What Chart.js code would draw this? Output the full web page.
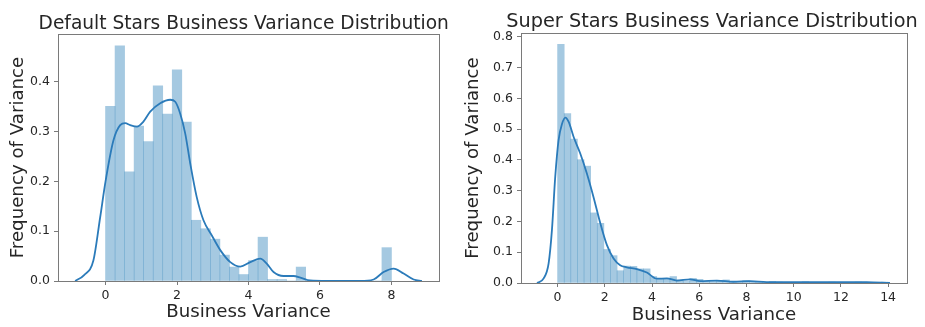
<!DOCTYPE html>
<html>
<head>
<meta charset="utf-8">
<script src="https://cdn.jsdelivr.net/npm/chart.js@4"></script>
<style>
html,body{margin:0;padding:0;background:#fff;}
.box{position:absolute;top:0;height:327px;}
#a{left:0;width:460px;}
#b{left:460px;width:465px;}
</style>
</head>
<body>
<div class="box" id="a"><canvas id="left"></canvas></div>
<div class="box" id="b"><canvas id="right"></canvas></div>
<script>
// histogram bins (density) and KDE curves
const defaultBinStart = 0, defaultBinWidth = 8/30;
const defaultHist = [0.351,0.472,0.219,0.311,0.280,0.392,0.335,0.424,0.319,0.122,
  0.105,0.084,0.052,0.028,0.013,0.041,0.088,0.003,0.003,0,
  0.028,0,0,0,0,0,0,0,0,0.067];
const defaultKdeX = [-0.85,-0.6,-0.34,-0.15,0,0.22,0.41,0.55,0.69,0.88,1.06,1.25,1.53,1.81,1.95,2.09,2.23,2.37,2.55,2.74,
  2.97,3.21,3.49,3.77,4.05,4.33,4.51,4.70,4.98,5.26,5.45,5.72,6.19,7.12,7.5,7.78,8.06,8.34,8.62,8.85];
const defaultKdeY = [0,0.012,0.041,0.128,0.2,0.282,0.313,0.317,0.313,0.31,0.32,0.34,0.357,0.364,0.36,0.336,0.296,0.236,0.169,0.122,
  0.092,0.062,0.038,0.029,0.038,0.045,0.035,0.018,0.010,0.010,0.007,0.001,0,0,0.003,0.018,0.025,0.015,0.003,0];

const superBinStart = 0, superBinWidth = 0.28;
const superHist = [0.776,0.551,0.468,0.401,0.380,0.228,0.194,0.109,0.089,0.040,
  0.055,0.054,0.046,0.046,0.021,0.012,0.012,0.021,0.010,0.005,
  0.015,0.012,0.005,0.004,0.008,0.010,0.004,0.003,0.008,0.003,
  0.003,0.002,0.005,0.003,0.002,0.001,0.002,0.004,0.001,0.002,
  0.001,0.003,0.001,0.001,0.001,0.003,0.001,0.001,0.002,0.003];
const superKdeX = [-0.87,-0.59,-0.38,-0.24,-0.10,0.04,0.19,0.33,0.47,0.68,0.96,1.24,1.52,1.81,2.09,2.37,2.65,2.93,3.36,3.78,
  4.2,4.63,5.05,5.61,6.04,6.75,7.45,8.15,8.86,10.27,11.68,13.09,14.08];
const superKdeY = [0,0.015,0.064,0.172,0.345,0.464,0.518,0.538,0.524,0.475,0.421,0.356,0.28,0.194,0.123,0.08,0.058,0.051,0.045,0.034,
  0.014,0.015,0.008,0.012,0.006,0.008,0.004,0.006,0.003,0.003,0.003,0.003,0];

const BAR = 'rgba(31,119,180,0.4)', LINE = '#2b7bba', SPINE = '#7a7a7a', TXT = '#262626';
const FONT = "'DejaVu Sans', sans-serif";

// axes frame + title drawn unsqueezed (the title is wider than the axes)
const frame = {
  id:'frame',
  afterDraw(c, args, o){
    const a=c.chartArea, ctx=c.ctx;
    ctx.save(); ctx.strokeStyle=SPINE; ctx.lineWidth=1;
    ctx.strokeRect(Math.round(a.left)+0.5, Math.round(a.top)+0.5, Math.round(a.right-a.left), Math.round(a.bottom-a.top));
    ctx.fillStyle=TXT; ctx.font=o.size+'px '+FONT; ctx.textAlign='center'; ctx.textBaseline='alphabetic';
    ctx.fillText(o.text, o.x, o.y);
    ctx.restore();
  }
};

function makeChart(id, cfg){
  const bars = cfg.hist.map((v,i)=>({x: cfg.start + (i+0.5)*cfg.width, y: v}));
  const kde = cfg.kx.map((x,i)=>({x, y: cfg.ky[i]}));
  return new Chart(document.getElementById(id), {
    type:'bar',
    data:{ datasets:[
      { type:'line', data:kde, borderColor:LINE, borderWidth:1.8, pointRadius:0, cubicInterpolationMode:'monotone', fill:false, order:0 },
      { type:'bar', data:bars, backgroundColor:BAR, borderWidth:0, barPercentage:1, categoryPercentage:1, order:1 }
    ]},
    options:{
      responsive:true, maintainAspectRatio:false, animation:false,
      layout:{ padding:{ left:0, right:cfg.padRight, top:cfg.top, bottom:0 } },
      plugins:{
        legend:{ display:false }, tooltip:{ enabled:false }, title:{ display:false },
        frame:{ text:cfg.title, x:cfg.titleX, y:cfg.titleY, size:cfg.titleSize }
      },
      scales:{
        x:{ type:'linear', min:cfg.xmin, max:cfg.xmax, offset:false,
          afterFit:s=>{ s.height = cfg.xh; },
          border:{ display:false },
          grid:{ display:true, offset:false, drawOnChartArea:false, drawTicks:true, tickLength:4, tickColor:SPINE },
          ticks:{ stepSize:2, includeBounds:false, color:TXT, padding:3, maxRotation:0, font:{ family:FONT, size:12.5 } },
          title:{ display:true, text:'Business Variance', color:TXT, font:{ family:FONT, size:18.2 }, padding:{ top:0, bottom:cfg.xtPad } } },
        y:{ min:0, max:cfg.ymax,
          afterFit:s=>{ s.width = cfg.yw; },
          border:{ display:false },
          grid:{ display:true, offset:false, drawOnChartArea:false, drawTicks:true, tickLength:4, tickColor:SPINE },
          ticks:{ stepSize:0.1, includeBounds:false, color:TXT, padding:4, font:{ family:FONT, size:12.5 }, callback:v=>v.toFixed(1) },
          title:{ display:true, text:'Frequency of Variance', color:TXT, font:{ family:FONT, size:18.2 }, padding:{ top:cfg.ytPad, bottom:0 } } }
      }
    },
    plugins:[frame]
  });
}

makeChart('left', { title:'Default Stars Business Variance Distribution', titleX:243.7, titleY:28.5, titleSize:18.6,
  hist:defaultHist, start:defaultBinStart, width:defaultBinWidth, kx:defaultKdeX, ky:defaultKdeY,
  xmin:-1.33, xmax:9.33, ymax:0.496, padRight:21, top:34, xh:46, yw:58, xtPad:3.5, ytPad:7 });

makeChart('right', { title:'Super Stars Business Variance Distribution', titleX:252, titleY:26.5, titleSize:19.3,
  hist:superHist, start:superBinStart, width:superBinWidth, kx:superKdeX, ky:superKdeY,
  xmin:-1.55, xmax:14.8, ymax:0.813, padRight:18, top:33, xh:44, yw:61, xtPad:0.5, ytPad:2 });
</script>
</body>
</html>
